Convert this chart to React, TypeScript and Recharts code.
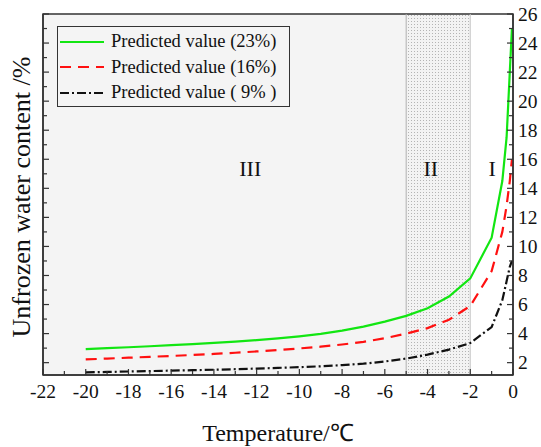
import {
  Line,
  LineChart,
  ReferenceArea,
  ReferenceDot,
  ReferenceLine,
  XAxis,
  YAxis,
} from "recharts";

document.body.style.margin = "0";

const FONT = '"Liberation Serif", "Times New Roman", serif';

const temps = [
  -20, -19, -18, -17, -16, -15, -14, -13, -12, -11, -10, -9, -8, -7, -6, -5,
  -4, -3, -2, -1, -0.5, -0.3, -0.15, -0.05,
];
const green23 = [
  2.93, 3.0, 3.06, 3.13, 3.2, 3.28, 3.36, 3.45, 3.55, 3.67, 3.81, 3.98, 4.2,
  4.48, 4.82, 5.22, 5.75, 6.55, 7.8, 10.6, 14.5, 17.5, 22.0, 25.0,
];
const red16 = [
  2.22, 2.28, 2.34, 2.4, 2.46, 2.53, 2.6, 2.68, 2.77, 2.87, 2.98, 3.1, 3.25,
  3.43, 3.68, 4.0, 4.38, 4.95, 5.9, 8.3, 11.0, 12.8, 14.5, 16.0,
];
const black9 = [
  1.33, 1.36, 1.39, 1.42, 1.45, 1.48, 1.51, 1.55, 1.59, 1.64, 1.69, 1.75, 1.83,
  1.93, 2.08, 2.28, 2.55, 2.9, 3.35, 4.45, 6.3, 7.6, 8.6, 9.0,
];

const xTicks = Array.from({ length: 23 }, (_, i) => -22 + i);
const yTicks = Array.from({ length: 25 }, (_, i) => 2 + i);
const yDomain = [1.15, 26];

// black series sits on the right axis so that axis gets drawn (same domain)
const series = [
  { name: "Predicted value (23%)", values: green23, colour: "#12e612", dash: undefined, axis: "left" },
  { name: "Predicted value (16%)", values: red16, colour: "#ff1010", dash: "11 7", axis: "left" },
  { name: "Predicted value ( 9% )", values: black9, colour: "#111", dash: "9 3 2 3", axis: "right" },
];

const toPoints = (values: number[]) => temps.map((t, i) => ({ t, v: values[i] }));

function XTick(props: any) {
  const { x, y, payload } = props;
  const major = payload.value % 2 === 0;
  return (
    <g>
      <line x1={x} x2={x} y1={y} y2={y - (major ? 6 : 4)} stroke="#333" strokeWidth={1.2} />
      {major && (
        <text x={x} y={y + 22.5} textAnchor="middle" fontFamily={FONT} fontSize={19.5} fill="#111">
          {payload.value}
        </text>
      )}
    </g>
  );
}

function LeftTick(props: any) {
  const { x, y, payload } = props;
  const major = payload.value % 2 === 0;
  return <line x1={x} x2={x + (major ? 6 : 4)} y1={y} y2={y} stroke="#333" strokeWidth={1.2} />;
}

function RightTick(props: any) {
  const { x, y, payload } = props;
  const major = payload.value % 2 === 0;
  return (
    <g>
      <line x1={x} x2={x - (major ? 6 : 4)} y1={y} y2={y} stroke="#333" strokeWidth={1.2} />
      {major && (
        <text x={x + 5} y={y + 6.5} textAnchor="start" fontFamily={FONT} fontSize={19.5} fill="#111">
          {payload.value}
        </text>
      )}
    </g>
  );
}

function LegendBox() {
  return (
    <div
      style={{
        position: "absolute",
        left: 57,
        top: 26,
        width: 231,
        height: 79,
        border: "1.5px solid #333",
        background: "#f4f4f4",
        fontFamily: FONT,
        fontSize: 18.5,
        color: "#111",
      }}
    >
      {series.map((s, i) => (
        <div key={s.name} style={{ display: "flex", alignItems: "center", height: 25.5, marginTop: i === 0 ? 2 : 0 }}>
          <svg width={50} height={10} style={{ marginLeft: 2 }}>
            <line x1={0} x2={44} y1={5} y2={5} stroke={s.colour} strokeWidth={2} strokeDasharray={s.dash} />
          </svg>
          <span style={{ marginLeft: 1, whiteSpace: "pre" }}>{s.name}</span>
        </div>
      ))}
    </div>
  );
}

const regionLabel = { fontFamily: FONT, fontSize: 22, fill: "#111", position: "center" as const };

export default function App() {
  return (
    <div style={{ position: "relative", width: 541, height: 447, background: "#fff" }}>
      <LineChart width={541} height={447} margin={{ top: 14, right: 0, bottom: 0, left: 42 }}>
        <defs>
          <pattern id="dots" width="3" height="3" patternUnits="userSpaceOnUse">
            <rect width="3" height="3" fill="#f3f3f3" />
            <rect x="0" y="0" width="1" height="1" fill="#b4b4b4" />
          </pattern>
        </defs>
        <ReferenceArea yAxisId="left" x1={-22} x2={-5} y1={yDomain[0]} y2={yDomain[1]} fill="#f4f4f4" fillOpacity={1} stroke="none" />
        <ReferenceArea yAxisId="left" x1={-5} x2={-2} y1={yDomain[0]} y2={yDomain[1]} fill="url(#dots)" fillOpacity={1} stroke="none" />
        <ReferenceLine yAxisId="left" x={-5} stroke="#b0b0b0" strokeWidth={1} />
        <ReferenceLine yAxisId="left" x={-2} stroke="#c8c8c8" strokeWidth={1} />
        <XAxis
          dataKey="t"
          type="number"
          domain={[-22, 0]}
          ticks={xTicks}
          interval={0}
          tickSize={0}
          tickMargin={0}
          tick={<XTick />}
          tickLine={false}
          axisLine={{ stroke: "#333", strokeWidth: 1.5 }}
          height={72}
          allowDuplicatedCategory={false}
          label={{
            value: "Temperature/℃",
            position: "insideBottom",
            offset: 6,
            fontFamily: FONT,
            fontSize: 24,
            fill: "#111",
          }}
        />
        <YAxis
          yAxisId="left"
          type="number"
          domain={yDomain}
          ticks={yTicks}
          interval={0}
          width={1}
          tickSize={0}
          tickMargin={0}
          tick={<LeftTick />}
          tickLine={false}
          axisLine={{ stroke: "#333", strokeWidth: 1.5 }}
        />
        <YAxis
          yAxisId="right"
          orientation="right"
          type="number"
          domain={yDomain}
          ticks={yTicks}
          interval={0}
          width={28}
          tickSize={0}
          tickMargin={0}
          tick={<RightTick />}
          tickLine={false}
          axisLine={{ stroke: "#333", strokeWidth: 1.5 }}
        />
        <ReferenceDot yAxisId="left" x={-12.3} y={15.4} r={0} stroke="none" label={{ value: "III", ...regionLabel }} />
        <ReferenceDot yAxisId="left" x={-3.85} y={15.4} r={0} stroke="none" label={{ value: "II", ...regionLabel }} />
        <ReferenceDot yAxisId="left" x={-0.98} y={15.4} r={0} stroke="none" label={{ value: "I", ...regionLabel }} />
        {series.map((s) => (
          <Line
            key={s.name}
            yAxisId={s.axis}
            data={toPoints(s.values)}
            dataKey="v"
            name={s.name}
            type="linear"
            stroke={s.colour}
            strokeWidth={2.2}
            strokeDasharray={s.dash}
            dot={false}
            activeDot={false}
            isAnimationActive={false}
          />
        ))}
        <ReferenceArea
          yAxisId="left"
          x1={-22}
          x2={0}
          y1={yDomain[0]}
          y2={yDomain[1]}
          fill="none"
          stroke="#333"
          strokeWidth={1.5}
        />
      </LineChart>
      <LegendBox />
      <div
        style={{
          position: "absolute",
          left: 22,
          top: 197,
          transform: "translate(-50%, -50%) rotate(-90deg)",
          whiteSpace: "nowrap",
          fontFamily: FONT,
          fontSize: 26,
          color: "#111",
        }}
      >
        Unfrozen water content /%
      </div>
    </div>
  );
}
